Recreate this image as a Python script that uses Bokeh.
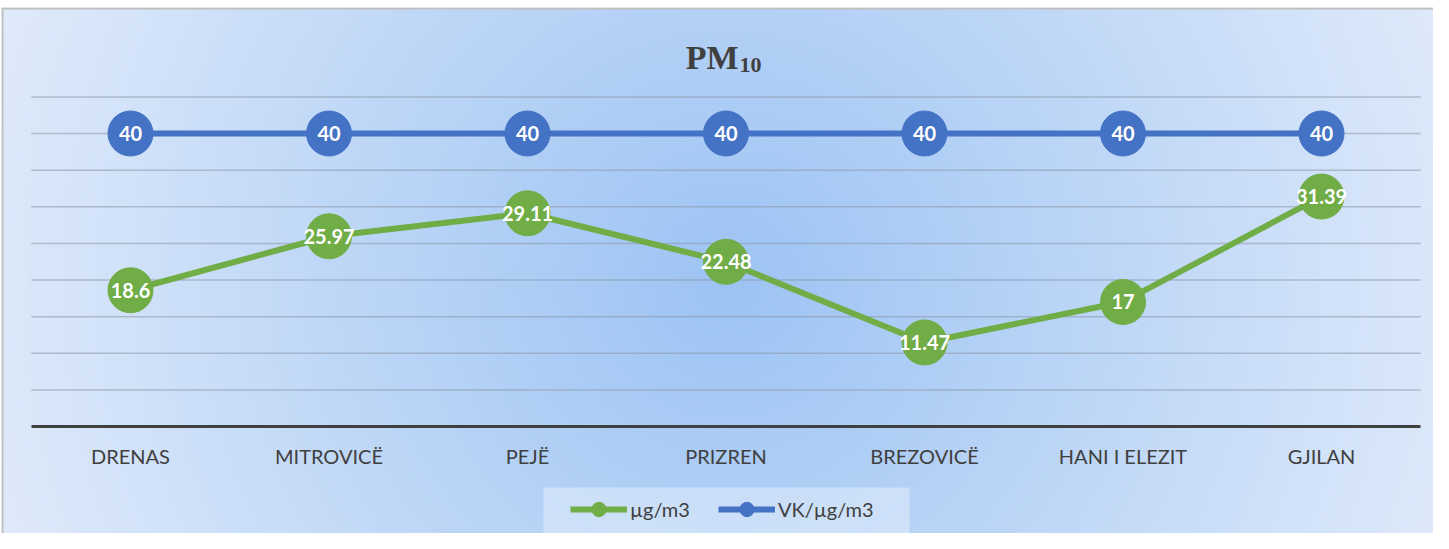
import numpy as np
from bokeh.plotting import figure
from bokeh.models import (Range1d, LinearAxis, FixedTicker, Legend, LegendItem,
                          Label, BoxAnnotation)
from bokeh.core.properties import value
from bokeh.embed import file_html
from bokeh.resources import INLINE

# ---------------- data ----------------
categories = ["DRENAS", "MITROVICË", "PEJË", "PRIZREN", "BREZOVICË", "HANI I ELEZIT", "GJILAN"]
pm10 = [18.6, 25.97, 29.11, 22.48, 11.47, 17, 31.39]
limit_vk = [40, 40, 40, 40, 40, 40, 40]
series_names = ["µg/m3", "VK/µg/m3"]
y_gridlines = [5, 10, 15, 20, 25, 30, 35, 40, 45]
title_main = "PM"
title_sub = "10"

# ---------------- layout (page pixels) ----------------
W, H = 1433, 533
FRAME_L, FRAME_T, FRAME_R, FRAME_B = 9, 15, 1441, 541
X0_PX, X_PX_PER = 38.75, 198.5      # plot-area left edge, px per category
Y0_PX, Y_PX_PER = 434.0, 7.325      # zero line, px per unit


def xd(px):
    return (px - X0_PX) / X_PX_PER


def yd(py):
    return (Y0_PX - py) / Y_PX_PER


GREEN = "#70ad47"
BLUE = "#4472c4"
TEXT = "#404040"

xs = [i + 0.5 for i in range(len(categories))]

p = figure(width=W, height=H,
           x_range=Range1d(xd(FRAME_L), xd(FRAME_R)),
           y_range=Range1d(yd(FRAME_B), yd(FRAME_T)),
           x_axis_location=None, y_axis_location=None,
           toolbar_location=None, output_backend="svg",
           min_border=0, min_border_left=FRAME_L - 8, min_border_top=FRAME_T - 8,
           min_border_right=0, min_border_bottom=0,
           border_fill_color="white", background_fill_color="#dfeafa",
           outline_line_color=None)

# background radial gradient (with grey chart border at top/left)
iw, ih = (FRAME_R - FRAME_L) // 2, (FRAME_B - FRAME_T) // 2
gx = FRAME_L + 2 * np.arange(iw) + 1
gy = FRAME_T + 2 * np.arange(ih) + 1
GX, GY = np.meshgrid(gx, gy)
t = np.clip(np.hypot(GX - 735, GY - 290) / 770.0, 0, 1)[..., None]
c0 = np.array([156, 195, 243], dtype=float)
c1 = np.array([223, 234, 250], dtype=float)
rgb = c0 * (1 - t) + c1 * t
rgba = np.empty((ih, iw, 4), dtype=np.uint8)
rgba[..., :3] = np.round(rgb).astype(np.uint8)
rgba[..., 3] = 255
rgba[0, :, :3] = 191
rgba[:, 0, :3] = 191
img = np.ascontiguousarray(rgba[::-1]).view(np.uint32).reshape(ih, iw)
p.image_rgba(image=[img], x=xd(FRAME_L), y=yd(FRAME_B),
             dw=xd(FRAME_R) - xd(FRAME_L), dh=yd(FRAME_T) - yd(FRAME_B))

# gridlines
p.segment(x0=[0] * len(y_gridlines), x1=[len(categories)] * len(y_gridlines),
          y0=y_gridlines, y1=y_gridlines, line_color="#8c98aa", line_alpha=0.55,
          line_width=1.5)

# category axis drawn on the zero line
xaxis = LinearAxis(fixed_location=0, ticker=FixedTicker(ticks=xs),
                   major_label_overrides={x: c for x, c in zip(xs, categories)},
                   bounds=(0, len(categories)),
                   axis_line_width=3, axis_line_color=TEXT,
                   major_tick_line_color=None, minor_tick_line_color=None,
                   major_label_text_font="Lato", major_label_text_font_size="20px",
                   major_label_text_color=TEXT, major_label_standoff=11)
p.add_layout(xaxis, "below")

# series
g_line = p.line(xs, pm10, line_color=GREEN, line_width=6)
g_pts = p.scatter(xs, pm10, size=45, fill_color=GREEN, line_color=GREEN)
b_line = p.line(xs, limit_vk, line_color=BLUE, line_width=6)
b_pts = p.scatter(xs, limit_vk, size=45, fill_color=BLUE, line_color=BLUE)

for vals in (pm10, limit_vk):
    p.text(x=xs, y=vals, text=[f"{v:g}" for v in vals],
           text_font=value("Lato"), text_font_style="bold", text_font_size="20px",
           text_color="white", text_align="center", text_baseline="middle")

# title PM10 with subscript
p.add_layout(Label(x=xd(746), y=yd(65), text=title_main, text_align="right",
                   text_baseline="alphabetic", text_font="Liberation Serif",
                   text_font_style="bold", text_font_size="34px", text_color=TEXT))
p.add_layout(Label(x=xd(747), y=yd(72), text=title_sub, text_align="left",
                   text_baseline="alphabetic", text_font="Liberation Serif",
                   text_font_style="bold", text_font_size="22px", text_color=TEXT))

# legend background + legend
p.add_layout(BoxAnnotation(left=xd(551), right=xd(917), top=yd(495), bottom=yd(541),
                           fill_color="white", fill_alpha=0.34, line_color=None))
legend = Legend(items=[LegendItem(label=series_names[0], renderers=[g_line, g_pts]),
                       LegendItem(label=series_names[1], renderers=[b_line, b_pts])],
                orientation="horizontal", location=(569, 6),
                glyph_width=57, glyph_height=36, label_standoff=3, spacing=28,
                padding=5, margin=0, background_fill_alpha=0, border_line_color=None,
                label_text_font="Lato", label_text_font_size="20px",
                label_text_color=TEXT)
p.add_layout(legend)

with open("out.html", "w", encoding="utf-8") as f:
    f.write(file_html(p, INLINE, title="PM10"))
